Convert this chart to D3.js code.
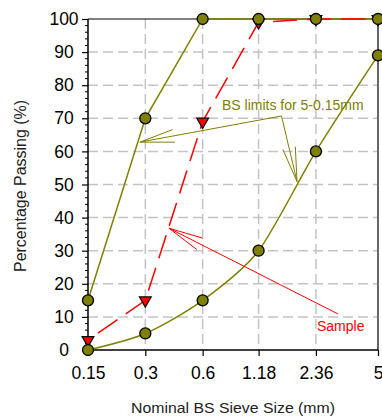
<!DOCTYPE html>
<html>
<head>
<meta charset="utf-8">
<script src="https://cdn.jsdelivr.net/npm/d3@7"></script>
<style>
  html, body { margin: 0; padding: 0; background: #fff; }
  svg { display: block; }
  text { font-family: "Liberation Sans", Arial, sans-serif; }
</style>
</head>
<body>
<svg id="chart" width="382" height="416"></svg>
<script>
// ---- data ----
const sieveSizes = [0.15, 0.3, 0.6, 1.18, 2.36, 5];
const sieveLabels = ["0.15", "0.3", "0.6", "1.18", "2.36", "5"];
const lowerLimit = [0, 5, 15, 30, 60, 89];
const upperLimit = [15, 70, 100, 100, 100, 100];
const sample = [3, 15, 69, 99, 100, 100];
const yTicks = [0, 10, 20, 30, 40, 50, 60, 70, 80, 90, 100];

// annotation anchors in data units [sieve size, % passing]
const bsArrowPath = [[0.281, 62.8], [1.557, 70.7], [1.878, 50.9]];
const bsLabel = { text: "BS limits for 5-0.15mm", at: [0.758, 72.5] };
const sampleArrowPath = [[3.08, 10.9], [0.399, 36.8]];
const sampleLabel = { text: "Sample", at: [2.39, 5.7] };

const olive = "#808000";
const red = "#ff0000";

const svg = d3.select("#chart");
const pL = 88, pR = 378, pT = 19, pB = 350;

const x = d3.scaleLog().domain([0.15, 5]).range([pL, pR]);
const y = d3.scaleLinear().domain([0, 100]).range([pB, pT]);

// gridlines
const grid = svg.append("g");
grid.append("g").selectAll("line").data(yTicks.filter(d => d > 0 && d < 100)).join("line")
  .attr("x1", pL).attr("x2", pR)
  .attr("y1", d => y(d)).attr("y2", d => y(d))
  .attr("stroke", "#c4c4c4").attr("stroke-width", 1.5).attr("stroke-dasharray", "10,5");
grid.append("g").selectAll("line").data(sieveSizes.slice(1, -1)).join("line")
  .attr("x1", d => x(d)).attr("x2", d => x(d))
  .attr("y1", pT).attr("y2", pB)
  .attr("stroke", "#c4c4c4").attr("stroke-width", 1.5).attr("stroke-dasharray", "10,5");

// frame
svg.append("line").attr("x1", pL).attr("x2", pR).attr("y1", pT).attr("y2", pT)
  .attr("stroke", "#000").attr("stroke-width", 1.2);
svg.append("line").attr("x1", pR).attr("x2", pR).attr("y1", pT).attr("y2", pB)
  .attr("stroke", "#666").attr("stroke-width", 2);

// axes
const yAxis = d3.axisLeft(y).tickValues(yTicks).tickSize(6).tickFormat(d3.format("d"));
const gy = svg.append("g").attr("transform", `translate(${pL},0)`).call(yAxis);
gy.select(".domain").remove();
gy.selectAll(".tick line").attr("stroke", "#000").attr("stroke-width", 1.2);
gy.selectAll(".tick text").attr("font-size", 17.5).attr("fill", "#000")
  .attr("text-anchor", "middle").attr("x", -24)
  .attr("font-family", "Liberation Sans, Arial, sans-serif");
// minor ticks every 2
const minor = d3.range(0, 101, 2).filter(d => d % 10 !== 0);
svg.append("g").selectAll("line").data(minor).join("line")
  .attr("x1", pL - 3).attr("x2", pL).attr("y1", d => y(d)).attr("y2", d => y(d))
  .attr("stroke", "#000").attr("stroke-width", 1);
svg.append("line").attr("x1", pL).attr("x2", pL).attr("y1", pT).attr("y2", pB)
  .attr("stroke", "#000").attr("stroke-width", 1.5);

const xAxis = d3.axisBottom(x).tickValues(sieveSizes).tickSize(6).tickPadding(11)
  .tickFormat((d, i) => sieveLabels[i]);
const gx = svg.append("g").attr("transform", `translate(0,${pB})`).call(xAxis);
gx.select(".domain").remove();
gx.selectAll(".tick line").attr("stroke", "#000").attr("stroke-width", 1.2);
gx.selectAll(".tick text").attr("font-size", 17.5).attr("fill", "#000")
  .attr("font-family", "Liberation Sans, Arial, sans-serif");
svg.append("line").attr("x1", pL).attr("x2", pR).attr("y1", pB).attr("y2", pB)
  .attr("stroke", "#000").attr("stroke-width", 1.5);

// axis titles
svg.append("text").attr("x", 233).attr("y", 413).attr("text-anchor", "middle")
  .attr("font-size", 15.5).attr("fill", "#222")
  .attr("textLength", 204).attr("lengthAdjust", "spacingAndGlyphs")
  .text("Nominal BS Sieve Size (mm)");
svg.append("text").attr("transform", `translate(26,186) rotate(-90)`).attr("text-anchor", "middle")
  .attr("font-size", 16).attr("fill", "#222")
  .attr("textLength", 172).attr("lengthAdjust", "spacingAndGlyphs")
  .text("Percentage Passing (%)");

// series lines
const straightLine = d3.line().x((d, i) => x(sieveSizes[i])).y(d => y(d));
const smoothLine = d3.line().x((d, i) => x(sieveSizes[i])).y(d => y(d)).curve(d3.curveCardinal.tension(0.2));
svg.append("path").attr("d", smoothLine(lowerLimit)).attr("fill", "none")
  .attr("stroke", olive).attr("stroke-width", 1.5);
svg.append("path").attr("d", straightLine(upperLimit)).attr("fill", "none")
  .attr("stroke", olive).attr("stroke-width", 1.5);
svg.append("path").attr("d", straightLine(sample)).attr("fill", "none")
  .attr("stroke", red).attr("stroke-width", 1.5).attr("stroke-dasharray", "24,10")
  .attr("stroke-dashoffset", -12);

// triangles (sample)
const tri = d3.symbol().type(d3.symbolTriangle).size(60);
svg.append("g").selectAll("path").data(sample).join("path")
  .attr("d", tri)
  .attr("transform", (d, i) => `translate(${x(sieveSizes[i])},${y(d)}) rotate(180)`)
  .attr("fill", red).attr("stroke", "#000").attr("stroke-width", 1.2);

// circles (limits)
const circ = svg.append("g");
[lowerLimit, upperLimit].forEach(series => {
  circ.append("g").selectAll("circle").data(series).join("circle")
    .attr("cx", (d, i) => x(sieveSizes[i])).attr("cy", d => y(d)).attr("r", 5.5)
    .attr("fill", olive).attr("stroke", "#000").attr("stroke-width", 1.3);
});

// annotations
function arrowHead(g, tip, from, color) {
  const ang = Math.atan2(from[1] - tip[1], from[0] - tip[0]);
  const len = 35, spread = 10.5 * Math.PI / 180;
  [ang - spread, ang + spread].forEach(a => {
    g.append("line").attr("x1", tip[0]).attr("y1", tip[1])
      .attr("x2", tip[0] + len * Math.cos(a)).attr("y2", tip[1] + len * Math.sin(a))
      .attr("stroke", color).attr("stroke-width", 1);
  });
}
const toPx = d => [x(d[0]), y(d[1])];
const ann = svg.append("g");
const bsPx = bsArrowPath.map(toPx);
ann.append("path").attr("d", d3.line()(bsPx)).attr("fill", "none").attr("stroke", olive).attr("stroke-width", 1);
arrowHead(ann, bsPx[0], bsPx[1], olive);
arrowHead(ann, bsPx[2], bsPx[1], olive);
const smPx = sampleArrowPath.map(toPx);
ann.append("path").attr("d", d3.line()(smPx)).attr("fill", "none").attr("stroke", red).attr("stroke-width", 1);
arrowHead(ann, smPx[1], smPx[0], red);

ann.append("text").attr("x", x(bsLabel.at[0])).attr("y", y(bsLabel.at[1]))
  .attr("font-size", 14).attr("fill", olive).text(bsLabel.text);
ann.append("text").attr("x", x(sampleLabel.at[0])).attr("y", y(sampleLabel.at[1]))
  .attr("font-size", 14).attr("fill", red).text(sampleLabel.text);
</script>
</body>
</html>
